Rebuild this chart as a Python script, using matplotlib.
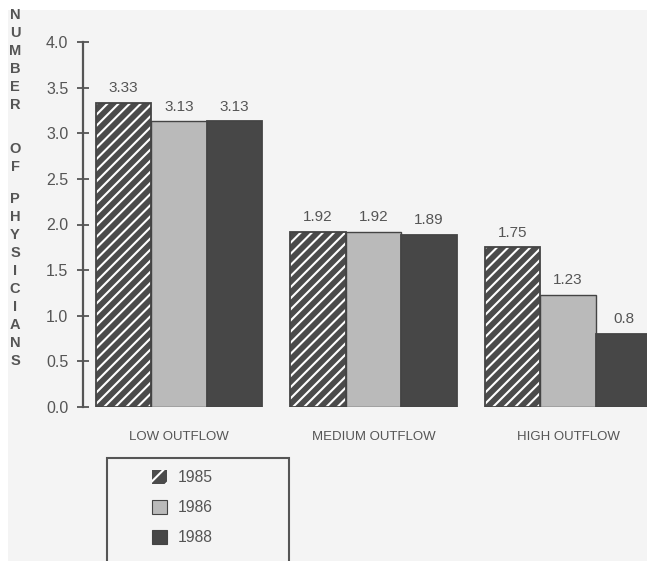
import matplotlib
matplotlib.use("Agg")
import matplotlib.pyplot as plt
import numpy as np
from matplotlib.patches import Patch, Rectangle

categories = ["LOW OUTFLOW", "MEDIUM OUTFLOW", "HIGH OUTFLOW"]
years = ["1985", "1986", "1988"]
v1985 = [3.33, 1.92, 1.75]
v1986 = [3.13, 1.92, 1.23]
v1988 = [3.13, 1.89, 0.8]
labels1985 = ["3.33", "1.92", "1.75"]
labels1986 = ["3.13", "1.92", "1.23"]
labels1988 = ["3.13", "1.89", "0.8"]
yticks = [0.0, 0.5, 1.0, 1.5, 2.0, 2.5, 3.0, 3.5, 4.0]
ylabel_words = ["NUMBER", "OF", "PHYSICIANS"]

plt.rcParams['font.family'] = ['Liberation Sans', 'DejaVu Sans']
plt.rcParams['hatch.linewidth'] = 1.5

W, H = 647, 561
fig = plt.figure(figsize=(W / 100, H / 100), dpi=100, facecolor='white')
# scanned paper background
fig.patches.append(Rectangle((8 / W, 0), 1, (H - 10) / H, transform=fig.transFigure,
                             facecolor='#f4f4f4', edgecolor='none', zorder=-10))

TXT = '#555555'
EDGE = '#444444'
ax = fig.add_axes([83 / W, (H - 407) / H, (W - 83) / W, (407 - 42) / H])
ax.set_facecolor('none')

x = np.arange(len(categories))
w = 55.5 / 194.5
ax.set_xlim(-96 / 194.5, (W - 179) / 194.5)
ax.set_ylim(0, 4)

series = [(v1985, labels1985), (v1986, labels1986), (v1988, labels1988)]
offsets = [-w, 0, w]

# 1985 hatched
ax.bar(x + offsets[0], v1985, w, facecolor='#4b4b4b', edgecolor='white', hatch='///', linewidth=0, zorder=2)
ax.bar(x + offsets[0], v1985, w, fill=False, edgecolor=EDGE, linewidth=1.3, zorder=3)
# 1986 dotted grey
ax.bar(x + offsets[1], v1986, w, facecolor='#bababa', edgecolor=EDGE, linewidth=1.0, zorder=2)
# 1988 dark
ax.bar(x + offsets[2], v1988, w, facecolor='#474747', edgecolor=EDGE, linewidth=1.3, zorder=2)

for (vals, labs), off in zip(series, offsets):
    for xi, v, lab in zip(x, vals, labs):
        ax.annotate(lab, (xi + off, v), xytext=(0, 5.5), textcoords='offset points',
                    ha='center', va='bottom', fontsize=11, color=TXT)

for s in ['top', 'right', 'bottom']:
    ax.spines[s].set_visible(False)
ax.spines['left'].set_color(TXT)
ax.spines['left'].set_linewidth(1.6)

ax.set_yticks(yticks)
ax.set_yticklabels([f"{t:.1f}" for t in yticks])
ax.tick_params(axis='y', direction='inout', length=9, width=1.3, color=TXT,
               labelcolor=TXT, labelsize=11.5, pad=6)
ax.set_xticks(x)
ax.set_xticklabels(categories)
ax.tick_params(axis='x', length=0, pad=17, labelsize=9.5, labelcolor=TXT)

# stacked vertical y label
ypix = 15
for wi, word in enumerate(ylabel_words):
    for ch in word:
        fig.text(15 / W, 1 - ypix / H, ch, ha='center', va='center', fontsize=10.5,
                 fontweight='bold', color=TXT)
        ypix += 18
    ypix += [26, 14, 0][wi]

# legend
fig.patches.append(Rectangle((107 / W, -0.1), (289 - 107) / W, 0.1 + (H - 458) / H,
                             transform=fig.transFigure, fill=False, edgecolor=TXT,
                             linewidth=1.5, zorder=5))
handles = [Patch(facecolor='#4b4b4b', edgecolor='white', hatch='//', linewidth=0),
           Patch(facecolor='#bababa', edgecolor=EDGE, linewidth=0.8),
           Patch(facecolor='#474747', edgecolor=EDGE, linewidth=0.8)]
leg = fig.legend(handles, years, loc='upper left', bbox_to_anchor=(152 / W, 1 - 470 / H),
                 frameon=False, fontsize=11.3, handlelength=0.95, handleheight=0.95,
                 labelspacing=0.95, handletextpad=0.7, borderpad=0, borderaxespad=0)
for t in leg.get_texts():
    t.set_color(TXT)

fig.savefig("out.png", dpi=100, facecolor=fig.get_facecolor())
